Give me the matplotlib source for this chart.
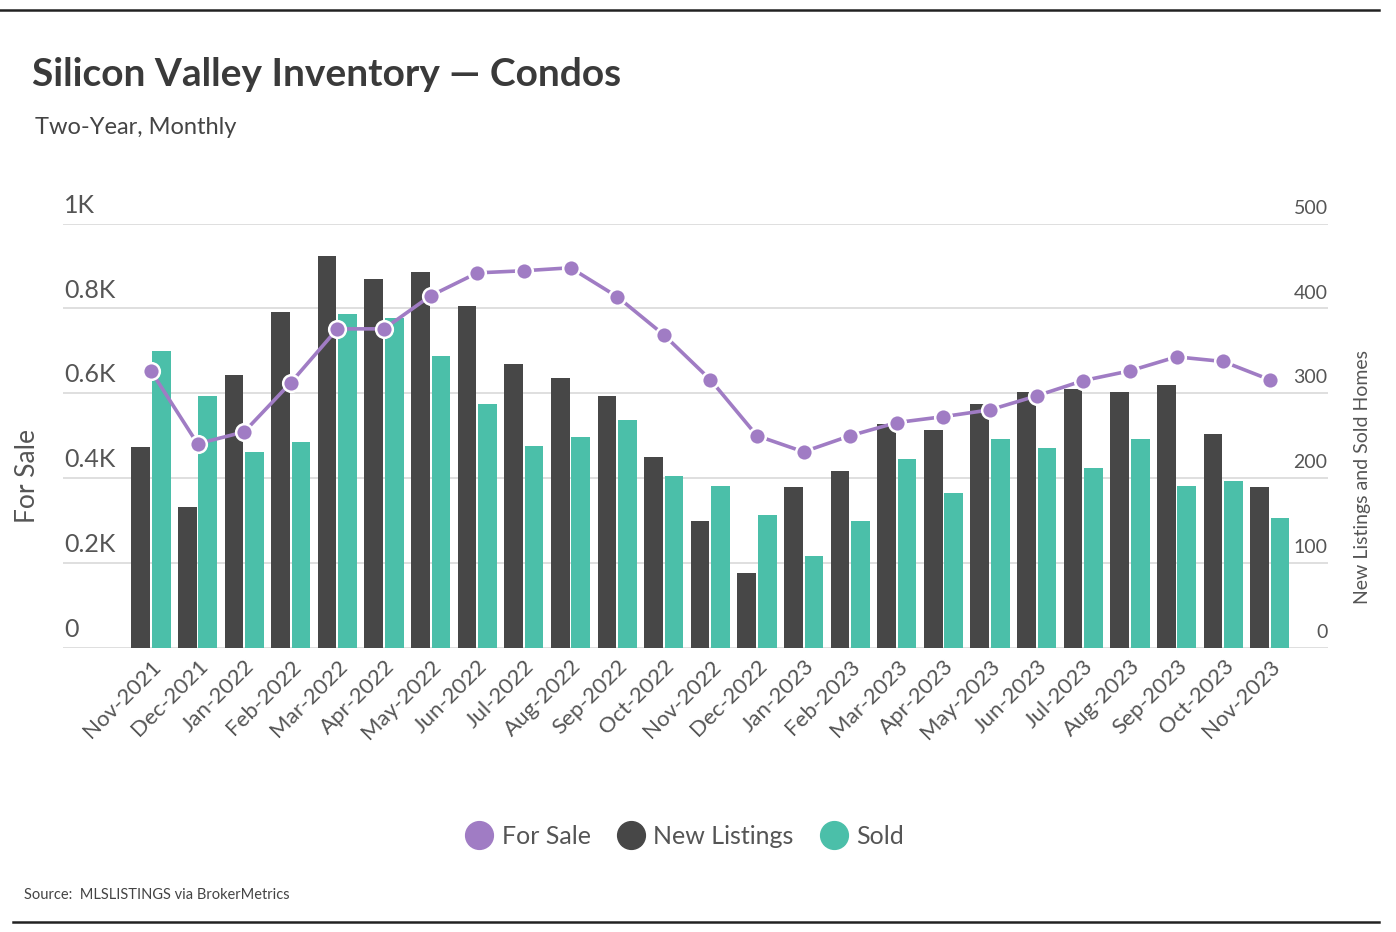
import numpy as np
import matplotlib.pyplot as plt
from matplotlib.lines import Line2D
from matplotlib.transforms import blended_transform_factory, offset_copy

plt.switch_backend('Agg')

months = ['Nov-2021', 'Dec-2021', 'Jan-2022', 'Feb-2022', 'Mar-2022', 'Apr-2022',
          'May-2022', 'Jun-2022', 'Jul-2022', 'Aug-2022', 'Sep-2022', 'Oct-2022',
          'Nov-2022', 'Dec-2022', 'Jan-2023', 'Feb-2023', 'Mar-2023', 'Apr-2023',
          'May-2023', 'Jun-2023', 'Jul-2023', 'Aug-2023', 'Sep-2023', 'Oct-2023',
          'Nov-2023']
for_sale = [653, 481, 509, 625, 752, 752, 830, 884, 889, 896, 828, 738,
            632, 500, 462, 500, 531, 545, 561, 594, 630, 653, 686, 675, 632]
new_listings = [237, 166, 322, 396, 462, 435, 443, 403, 335, 318, 297, 225,
                149, 88, 189, 208, 264, 257, 287, 301, 305, 301, 310, 252, 189]
sold = [350, 297, 231, 242, 394, 389, 344, 287, 238, 249, 268, 202,
        191, 157, 108, 150, 223, 183, 246, 236, 212, 246, 191, 197, 153]

left_ticks = [0, 200, 400, 600, 800, 1000]
left_labels = ['0', '0.2K', '0.4K', '0.6K', '0.8K', '1K']
right_ticks = [0, 100, 200, 300, 400, 500]

PURPLE = '#a07cc4'
DARK = '#474747'
TEAL = '#4bbfa9'
GREY = '#555555'

plt.rcParams['font.family'] = ['Lato', 'DejaVu Sans']

fig = plt.figure(figsize=(13.96, 9.32), dpi=100)
ax = fig.add_axes([0.045, 0.305, 0.906, 0.455])
ax2 = ax.twinx()

x = np.arange(len(months))
w = 0.40
ax.bar(x - 0.22, new_listings, width=w, color=DARK, zorder=2)
ax.bar(x + 0.22, sold, width=w, color=TEAL, zorder=2)
ax.set_ylim(0, 500)
ax.set_xlim(-1.89, len(months) - 1 + 1.24)

ax2.plot(x, for_sale, color=PURPLE, lw=2.6, marker='o', ms=12,
         mfc=PURPLE, mec='white', mew=1.8, zorder=3)
ax2.set_ylim(0, 1000)

for a in (ax, ax2):
    for s in a.spines.values():
        s.set_visible(False)
    a.set_yticks([])
    a.tick_params(length=0)

for t in right_ticks:
    ax.axhline(t, color='#d6d6d6', lw=1.1, zorder=1)

# left labels (For Sale scale), sitting above gridlines
tr_left = offset_copy(blended_transform_factory(ax.transAxes, ax2.transData),
                      fig=fig, x=1, y=5, units='points')
for t, lab in zip(left_ticks, left_labels):
    ax.text(0.0, t, lab, transform=tr_left, ha='left', va='bottom',
            fontsize=18, color=GREY)

tr_right = offset_copy(blended_transform_factory(ax.transAxes, ax.transData),
                       fig=fig, x=0, y=5, units='points')
for t in right_ticks:
    ax.text(1.0, t, str(t), transform=tr_right, ha='right', va='bottom',
            fontsize=14, color=GREY)

ax.set_xticks(x)
ax.set_xticklabels(months, rotation=45, ha='right', rotation_mode='anchor',
                   fontsize=16, color=GREY)
ax.tick_params(axis='x', pad=6)

fig.text(0.02, 0.489, 'For Sale', rotation=90, ha='center', va='center',
         fontsize=19, color=GREY)
fig.text(0.976, 0.488, 'New Listings and Sold Homes', rotation=90, ha='center',
         va='center', fontsize=14, color=GREY)

fig.text(0.023, 0.92, 'Silicon Valley Inventory \u2014 Condos', ha='left',
         va='center', fontsize=28, fontweight='bold', color='#3a3a3a')
fig.text(0.025, 0.863, 'Two-Year, Monthly', ha='left', va='center',
         fontsize=17, color='#444444')

handles = [Line2D([], [], ls='', marker='o', ms=20, color=c)
           for c in (PURPLE, DARK, TEAL)]
fig.legend(handles, ['For Sale', 'New Listings', 'Sold'], loc='center',
           bbox_to_anchor=(0.49, 0.103), ncol=3, frameon=False,
           prop={'size': 18}, labelcolor=GREY,
           handletextpad=0.3, columnspacing=1.0, handlelength=1.2)

fig.text(0.017, 0.04, 'Source:  MLSLISTINGS via BrokerMetrics', ha='left',
         va='center', fontsize=10.5, color='#444444')

fig.add_artist(Line2D([0.0, 0.988], [0.989, 0.989], color='#222222', lw=1.8))
fig.add_artist(Line2D([0.009, 0.988], [0.011, 0.011], color='#222222', lw=1.8))

fig.savefig('out.png', dpi=100, facecolor='white')
